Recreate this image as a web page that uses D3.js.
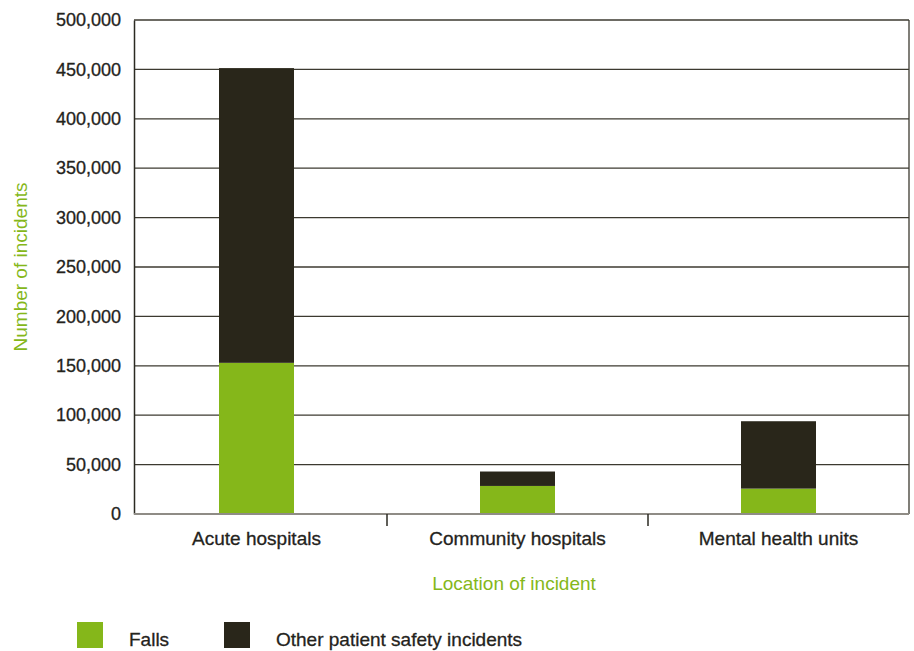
<!DOCTYPE html>
<html>
<head>
<meta charset="utf-8">
<script src="https://cdn.jsdelivr.net/npm/d3@7"></script>
<style>
  body { margin: 0; background: #fff; }
  text { font-family: "Liberation Sans", Arial, sans-serif; }
</style>
</head>
<body>
<svg id="chart" width="914" height="651"></svg>
<script>
const locations = ['Acute hospitals', 'Community hospitals', 'Mental health units'];
const falls = [153000, 28400, 25700];
const otherIncidents = [298300, 14600, 68200];
const seriesNames = ['Falls', 'Other patient safety incidents'];
const yTicks = [0, 50000, 100000, 150000, 200000, 250000, 300000, 350000, 400000, 450000, 500000];

const colors = ['#85b71a', '#29261a'];
const textColor = '#24231c';
const green = '#85b71a';

const svg = d3.select('#chart');
const plotLeft = 134;
const plotRight = 909;
const plotTop = 20;
const plotBottom = 514;
const fontFamily = '"Liberation Sans", Arial, sans-serif';

// category bands start a little left of the value axis, like the source
const scaleX = d3.scaleBand()
  .domain(locations)
  .range([126, plotRight]);
const barWidth = 75;

const scaleY = d3.scaleLinear()
  .domain([0, 500000])
  .range([plotBottom, plotTop]);

// gridlines
svg.append('g')
  .selectAll('line')
  .data(yTicks.filter(d => d > 0))
  .enter().append('line')
  .attr('x1', plotLeft)
  .attr('x2', plotRight)
  .attr('y1', d => scaleY(d))
  .attr('y2', d => scaleY(d))
  .attr('stroke', '#3c3a30')
  .attr('stroke-width', 1.3);

// stacked bars
const rows = locations.map((loc, i) => ({ loc, falls: falls[i], other: otherIncidents[i] }));
const stack = d3.stack().keys(['falls', 'other'])(rows);

svg.append('g')
  .selectAll('g')
  .data(stack)
  .enter().append('g')
  .attr('fill', (d, i) => colors[i])
  .selectAll('rect')
  .data(d => d)
  .enter().append('rect')
  .attr('x', d => scaleX(d.data.loc) + scaleX.bandwidth() / 2 - barWidth / 2)
  .attr('width', barWidth)
  .attr('y', d => scaleY(d[1]))
  .attr('height', d => scaleY(d[0]) - scaleY(d[1]));

// right border
svg.append('line')
  .attr('x1', plotRight).attr('x2', plotRight)
  .attr('y1', plotTop).attr('y2', plotBottom)
  .attr('stroke', '#3c3a30')
  .attr('stroke-width', 1.3);

// left axis
const yAxis = svg.append('g')
  .attr('transform', `translate(${plotLeft},0)`)
  .call(d3.axisLeft(scaleY)
    .tickValues(yTicks)
    .tickSize(0)
    .tickPadding(13)
    .tickFormat(d3.format(',')));
yAxis.select('.domain')
  .attr('stroke', '#2b2a22')
  .attr('stroke-width', 1.5);
yAxis.selectAll('text')
  .attr('fill', textColor)
  .attr('stroke', textColor)
  .attr('stroke-width', 0.3)
  .attr('font-size', '18px')
  .style('font-family', fontFamily);

// bottom axis
const xAxis = svg.append('g')
  .attr('transform', `translate(0,${plotBottom})`)
  .call(d3.axisBottom(scaleX).tickSize(0).tickPadding(17.5));
xAxis.select('.domain').remove();
xAxis.selectAll('text')
  .attr('fill', textColor)
  .attr('stroke', textColor)
  .attr('stroke-width', 0.3)
  .attr('font-size', '19px')
  .style('font-family', fontFamily);

svg.append('line')
  .attr('x1', plotLeft).attr('x2', plotRight)
  .attr('y1', plotBottom).attr('y2', plotBottom)
  .attr('stroke', '#8f8c86')
  .attr('stroke-width', 2);

// separators between categories
svg.append('g')
  .selectAll('line')
  .data(locations.slice(1))
  .enter().append('line')
  .attr('x1', d => scaleX(d))
  .attr('x2', d => scaleX(d))
  .attr('y1', plotBottom)
  .attr('y2', plotBottom + 12)
  .attr('stroke', '#2b2a22')
  .attr('stroke-width', 1.5);

// axis titles
svg.append('text')
  .attr('transform', `translate(27, ${(plotTop + plotBottom) / 2}) rotate(-90)`)
  .attr('text-anchor', 'middle')
  .attr('font-size', '19px')
  .attr('fill', green)
  .text('Number of incidents');

svg.append('text')
  .attr('x', 514)
  .attr('y', 590)
  .attr('text-anchor', 'middle')
  .attr('font-size', '19px')
  .attr('fill', green)
  .text('Location of incident');

// legend
const legendX = [77, 224];
const legend = svg.append('g')
  .selectAll('g')
  .data(seriesNames)
  .enter().append('g')
  .attr('transform', (d, i) => `translate(${legendX[i]}, 622)`);
legend.append('rect')
  .attr('width', 26)
  .attr('height', 26)
  .attr('fill', (d, i) => colors[i]);
legend.append('text')
  .attr('x', 52)
  .attr('y', 24)
  .attr('font-size', '19px')
  .attr('fill', textColor)
  .attr('stroke', textColor)
  .attr('stroke-width', 0.3)
  .text(d => d);
</script>
</body>
</html>
